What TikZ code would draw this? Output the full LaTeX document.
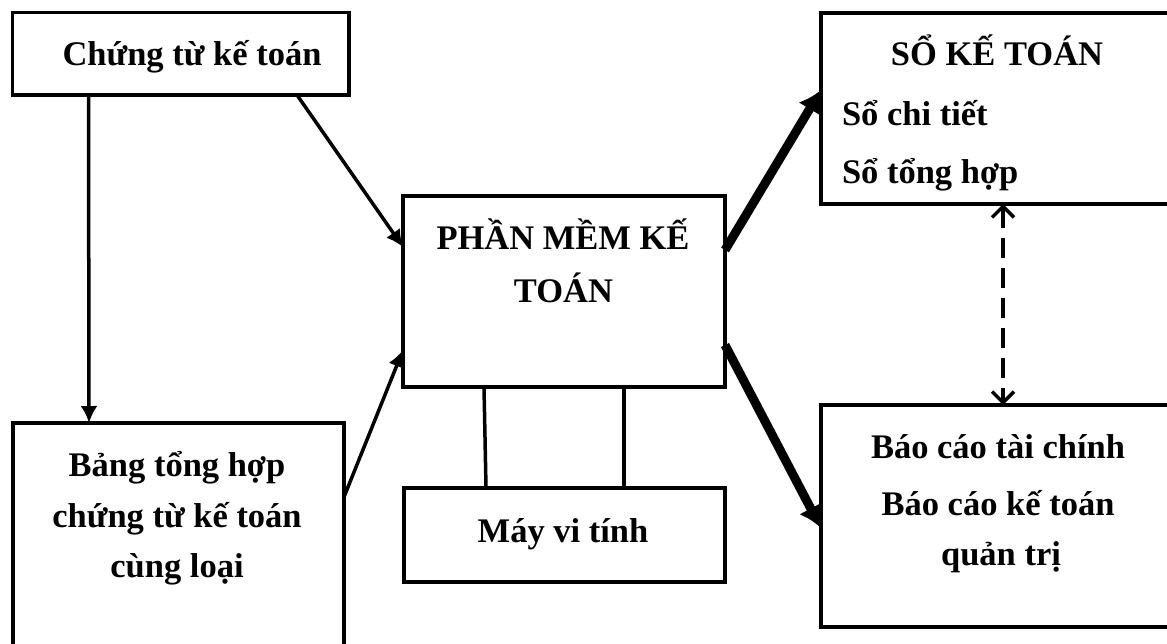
\documentclass[tikz,border=0pt]{standalone}
\usepackage{fontspec}
\setmainfont{Liberation Serif}
\usetikzlibrary{arrows.meta,calc}

\tikzset{
  box/.style={draw, line width=3.5pt, rectangle, anchor=north west,
              inner sep=0pt, outer sep=0pt},
  label/.style={font=\fontsize{34.5}{40}\selectfont\bfseries,
                inner sep=0pt, outer sep=0pt, anchor=base},
  leftlabel/.style={label, anchor=base west},
  thinarrow/.style={line width=3.5pt, -{Latex[length=17pt,width=17pt]}},
  thickarrow/.style={line width=9pt, -{Latex[length=22pt,width=26pt]}},
  dasharrow/.style={line width=3.5pt, dash pattern=on 20pt off 10pt,
                    {Straight Barb[length=11pt,width=22pt]}-{Straight Barb[length=11pt,width=22pt]}},
  link/.style={line width=3.5pt}
}

\begin{document}
\begin{tikzpicture}[x=1pt,y=-1pt]
  \useasboundingbox (0,0) rectangle (1167,643);
  \clip (0,0) rectangle (1167,643);
  \fill[white] (0,0) rectangle (1167,643);

  % boxes
  \node[box, minimum width=336.5pt, minimum height=82.5pt] (chungtu) at (12.5,12.5) {};
  \node[box, minimum width=331pt, minimum height=280pt] (bang) at (13,423) {};
  \node[box, minimum width=322pt, minimum height=191pt] (phanmem) at (403,196) {};
  \node[box, minimum width=321pt, minimum height=94pt] (may) at (404,488) {};
  \node[box, minimum width=380pt, minimum height=191pt] (so) at (821,13) {};
  \node[box, minimum width=380pt, minimum height=222pt] (baocao) at (821,405) {};

  % texts
  \node[label] (tChungtu) at (192,65) {Chứng từ kế toán};
  \node[label] (tPm1) at (563,249) {PHẦN MỀM KẾ};
  \node[label] (tPm2) at (563.5,302) {TOÁN};
  \node[label] (tMay) at (563,542) {Máy vi tính};
  \node[label] (tBang1) at (177,476) {Bảng tổng hợp};
  \node[label] (tBang2) at (177,527) {chứng từ kế toán};
  \node[label] (tBang3) at (177,577) {cùng loại};
  \node[label] (tSo1) at (997,65) {SỔ KẾ TOÁN};
  \node[leftlabel] (tSo2) at (842,125) {Sổ chi tiết};
  \node[leftlabel] (tSo3) at (842,183) {Sổ tổng hợp};
  \node[label] (tBc1) at (998,458) {Báo cáo tài chính};
  \node[label] (tBc2) at (998,515) {Báo cáo kế toán};
  \node[label] (tBc3) at (1001,565) {quản trị};

  % connectors
  \draw[thinarrow] ($(chungtu.south west)+(76,0)$) -- ($(bang.north west)+(76,0)$);
  \draw[thinarrow] ($(chungtu.south west)+(284.5,0)$) -- ($(phanmem.north west)+(0,51)$);
  \draw[thinarrow] ($(bang.north east)+(0,74)$) -- ($(phanmem.north west)+(0,154)$);
  \draw[link] ($(phanmem.south west)+(81,0)$) -- ($(may.north west)+(82,0)$);
  \draw[link] ($(phanmem.south west)+(221,0)$) -- ($(may.north west)+(220,0)$);
  \draw[thickarrow] ($(phanmem.north east)+(0,54)$) -- ($(so.north west)+(0,77)$);
  \draw[thickarrow] ($(phanmem.north east)+(0,149)$) -- ($(baocao.north west)+(0,123)$);
  \draw[dasharrow] ($(so.south west)+(182,0)$) -- ($(baocao.north west)+(182,0)$);
\end{tikzpicture}
\end{document}
